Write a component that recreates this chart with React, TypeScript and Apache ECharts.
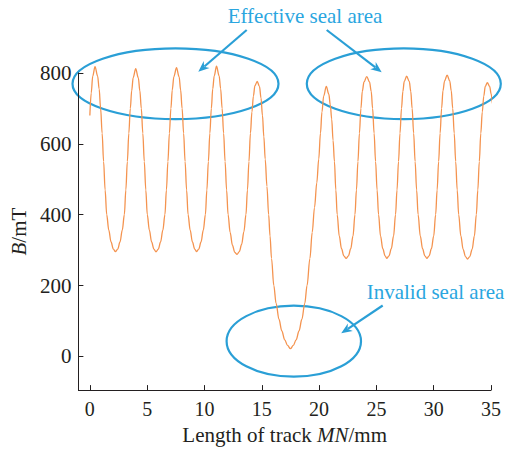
import React, { useEffect, useRef } from "react";
import * as echarts from "echarts";

// Track position (mm)
const trackMm = [
  0.0, 0.12, 0.25, 0.45, 0.68, 0.81, 0.94, 1.07, 1.2, 1.33, 1.47, 1.65, 1.85, 2.05,
  2.23, 2.43, 2.63, 2.83, 3.01, 3.14, 3.27, 3.4, 3.53, 3.65, 3.78,
  4.0, 4.23, 4.36, 4.49, 4.62, 4.75, 4.88, 5.01, 5.19, 5.39, 5.59,
  5.77, 5.97, 6.17, 6.37, 6.55, 6.68, 6.81, 6.94, 7.07, 7.19, 7.33,
  7.56, 7.79, 7.92, 8.05, 8.18, 8.31, 8.44, 8.57, 8.75, 8.95, 9.15,
  9.3, 9.5, 9.7, 9.9, 10.08, 10.21, 10.34, 10.47, 10.6, 10.72, 10.85,
  11.05, 11.28, 11.41, 11.54, 11.67, 11.8, 11.93, 12.06, 12.24, 12.44, 12.64,
  12.84, 13.04, 13.24, 13.44, 13.62, 13.75, 13.88, 14.01, 14.14, 14.27, 14.4,
  14.6, 14.8, 14.93, 15.06, 15.18, 15.3, 15.45, 15.6, 15.72, 15.85, 16.05, 16.25, 16.5, 16.75, 17.0, 17.25,
  17.5, 17.75, 18.0, 18.25, 18.5, 18.75, 18.95, 19.2, 19.4, 19.6, 19.8, 19.97, 20.12, 20.25, 20.4,
  20.63, 20.85, 20.98, 21.1, 21.22, 21.34, 21.46, 21.58, 21.76, 21.96, 22.16,
  22.36, 22.56, 22.76, 22.96, 23.13, 23.26, 23.39, 23.52, 23.65, 23.77, 23.92,
  24.16, 24.4, 24.55, 24.67, 24.8, 24.93, 25.06, 25.19, 25.36, 25.56, 25.76,
  25.9, 26.1, 26.3, 26.5, 26.67, 26.8, 26.93, 27.06, 27.19, 27.31, 27.43,
  27.64, 27.87, 28.0, 28.12, 28.25, 28.38, 28.51, 28.64, 28.83, 29.03, 29.23,
  29.4, 29.6, 29.8, 30.0, 30.17, 30.3, 30.43, 30.56, 30.69, 30.81, 30.95,
  31.17, 31.4, 31.53, 31.66, 31.79, 31.92, 32.05, 32.18, 32.37, 32.57, 32.77,
  32.95, 33.15, 33.35, 33.55, 33.72, 33.85, 33.98, 34.11, 34.24, 34.37, 34.5,
  34.68, 34.88, 35.02, 35.14, 35.25,
];
// Magnetic flux density B (mT) at those positions
const fieldMt = [
  680, 744, 791, 818, 791, 755, 700, 630, 550, 470, 400, 357, 323, 303,
  296, 303, 323, 357, 400, 470, 550, 630, 700, 750, 787,
  812, 786, 750, 700, 630, 550, 470, 400, 357, 323, 303,
  295, 303, 323, 357, 400, 470, 550, 630, 700, 752, 790,
  815, 789, 752, 700, 630, 550, 470, 400, 357, 323, 303,
  296, 303, 323, 357, 400, 470, 550, 630, 700, 755, 792,
  819, 792, 756, 700, 630, 550, 470, 400, 350, 314, 294,
  288, 296, 316, 352, 400, 470, 550, 630, 690, 735, 764,
  776, 762, 730, 680, 620, 557, 480, 400, 340, 277, 200, 150, 105, 72, 47, 31,
  22, 31, 47, 72, 105, 150, 200, 277, 350, 420, 490, 557, 630, 690, 735,
  762, 740, 710, 670, 610, 550, 470, 400, 340, 304, 284,
  277, 284, 304, 340, 400, 470, 550, 630, 700, 748, 775,
  790, 775, 748, 700, 630, 550, 470, 400, 340, 304, 284,
  277, 284, 304, 340, 400, 470, 550, 630, 700, 748, 776,
  791, 776, 748, 700, 630, 550, 470, 400, 340, 304, 284,
  277, 284, 304, 340, 400, 470, 550, 630, 700, 750, 778,
  794, 778, 750, 700, 630, 550, 470, 400, 340, 302, 282,
  275, 282, 302, 340, 400, 470, 550, 630, 690, 735, 762,
  773, 762, 740, 712, 686,
];
const xTicks = [0, 5, 10, 15, 20, 25, 30, 35];
const yTicks = [0, 200, 400, 600, 800];
const xRange = [-1, 35];
const yRange = [-95, 800];
const annotations = ["Effective seal area", "Invalid seal area"];

const FONT = "Liberation Serif";
const INK = "#231f20";
const BLUE = "#2a9fd6";
const TEXTBLUE = "#2aa6df";
const ORANGE = "#f4934f";

function arrow(x1: number, y1: number, x2: number, y2: number) {
  const dx = x2 - x1;
  const dy = y2 - y1;
  const L = Math.hypot(dx, dy);
  const ux = dx / L;
  const uy = dy / L;
  const head = 11;
  const hw = 4.5;
  const bx = x2 - ux * head;
  const by = y2 - uy * head;
  return [
    {
      type: "line",
      shape: { x1, y1, x2: bx + ux * 3, y2: by + uy * 3 },
      style: { stroke: BLUE, lineWidth: 2.2 },
      silent: true,
    },
    {
      type: "polygon",
      shape: {
        points: [
          [x2, y2],
          [bx - uy * hw, by + ux * hw],
          [x2 - ux * head * 0.7, y2 - uy * head * 0.7],
          [bx + uy * hw, by - ux * hw],
        ],
      },
      style: { fill: BLUE },
      silent: true,
    },
  ];
}

export default function App() {
  const ref = useRef<HTMLDivElement>(null);
  useEffect(() => {
    if (!ref.current) return;
    const chart = echarts.init(ref.current, null, { renderer: "svg" });
    const data = trackMm.map((x, i) => [x, fieldMt[i]]);
    chart.setOption({
      animation: false,
      backgroundColor: "#ffffff",
      grid: { left: 75, right: 15, top: 73, bottom: 57, containLabel: false },
      xAxis: {
        type: "value",
        min: xRange[0],
        max: xRange[1],
        name: "Length of track {i|MN}/mm",
        nameLocation: "middle",
        nameGap: 31,
        nameTextStyle: {
          fontFamily: FONT,
          fontSize: 21,
          color: INK,
          rich: { i: { fontFamily: FONT, fontSize: 21, fontStyle: "italic", color: INK } },
        },
        axisLine: { show: true, onZero: false, lineStyle: { color: INK, width: 1 } },
        axisTick: { show: true, inside: true, length: 5, customValues: xTicks, lineStyle: { color: INK } },
        axisLabel: {
          customValues: xTicks,
          fontFamily: FONT,
          fontSize: 20,
          color: INK,
          margin: 9,
        },
        splitLine: { show: false },
      },
      yAxis: {
        type: "value",
        min: yRange[0],
        max: yRange[1],
        name: "{i|B}/mT",
        nameLocation: "middle",
        nameGap: 46,
        nameRotate: 90,
        nameTextStyle: {
          fontFamily: FONT,
          fontSize: 21,
          color: INK,
          rich: { i: { fontFamily: FONT, fontSize: 21, fontStyle: "italic", color: INK } },
        },
        axisLine: { show: true, onZero: false, lineStyle: { color: INK, width: 1 } },
        axisTick: { show: true, inside: true, length: 5, customValues: yTicks, lineStyle: { color: INK } },
        axisLabel: {
          customValues: yTicks,
          fontFamily: FONT,
          fontSize: 21,
          color: INK,
          margin: 7,
        },
        splitLine: { show: false },
      },
      series: [
        {
          type: "line",
          data,
          smooth: 0.35,
          smoothMonotone: "x",
          showSymbol: false,
          clip: false,
          lineStyle: { color: ORANGE, width: 1.3 },
        },
      ],
      graphic: [
        {
          type: "ellipse",
          shape: { cx: 175.5, cy: 83.7, rx: 103, ry: 35.4 },
          style: { fill: "none", stroke: BLUE, lineWidth: 2.2 },
          silent: true,
        },
        {
          type: "ellipse",
          shape: { cx: 403.8, cy: 83.7, rx: 97, ry: 35.4 },
          style: { fill: "none", stroke: BLUE, lineWidth: 2.2 },
          silent: true,
        },
        {
          type: "ellipse",
          shape: { cx: 293.8, cy: 341.2, rx: 67.2, ry: 35.5 },
          style: { fill: "none", stroke: BLUE, lineWidth: 2.2 },
          silent: true,
        },
        ...arrow(246.7, 30, 198.3, 71.7),
        ...arrow(326.7, 30, 381.7, 72.3),
        ...arrow(382.7, 305.5, 341.2, 333.3),
        {
          type: "text",
          x: 305,
          y: 16,
          style: {
            text: annotations[0],
            fontFamily: FONT,
            fontSize: 21,
            fill: TEXTBLUE,
            align: "center",
            verticalAlign: "middle",
          },
          silent: true,
        },
        {
          type: "text",
          x: 366.7,
          y: 292,
          style: {
            text: annotations[1],
            fontFamily: FONT,
            fontSize: 21,
            fill: TEXTBLUE,
            align: "left",
            verticalAlign: "middle",
          },
          silent: true,
        },
      ],
    });
    return () => chart.dispose();
  }, []);
  return (
    <div
      ref={ref}
      style={{ position: "fixed", left: 0, top: 0, width: 506, height: 450, background: "#fff" }}
    />
  );
}
